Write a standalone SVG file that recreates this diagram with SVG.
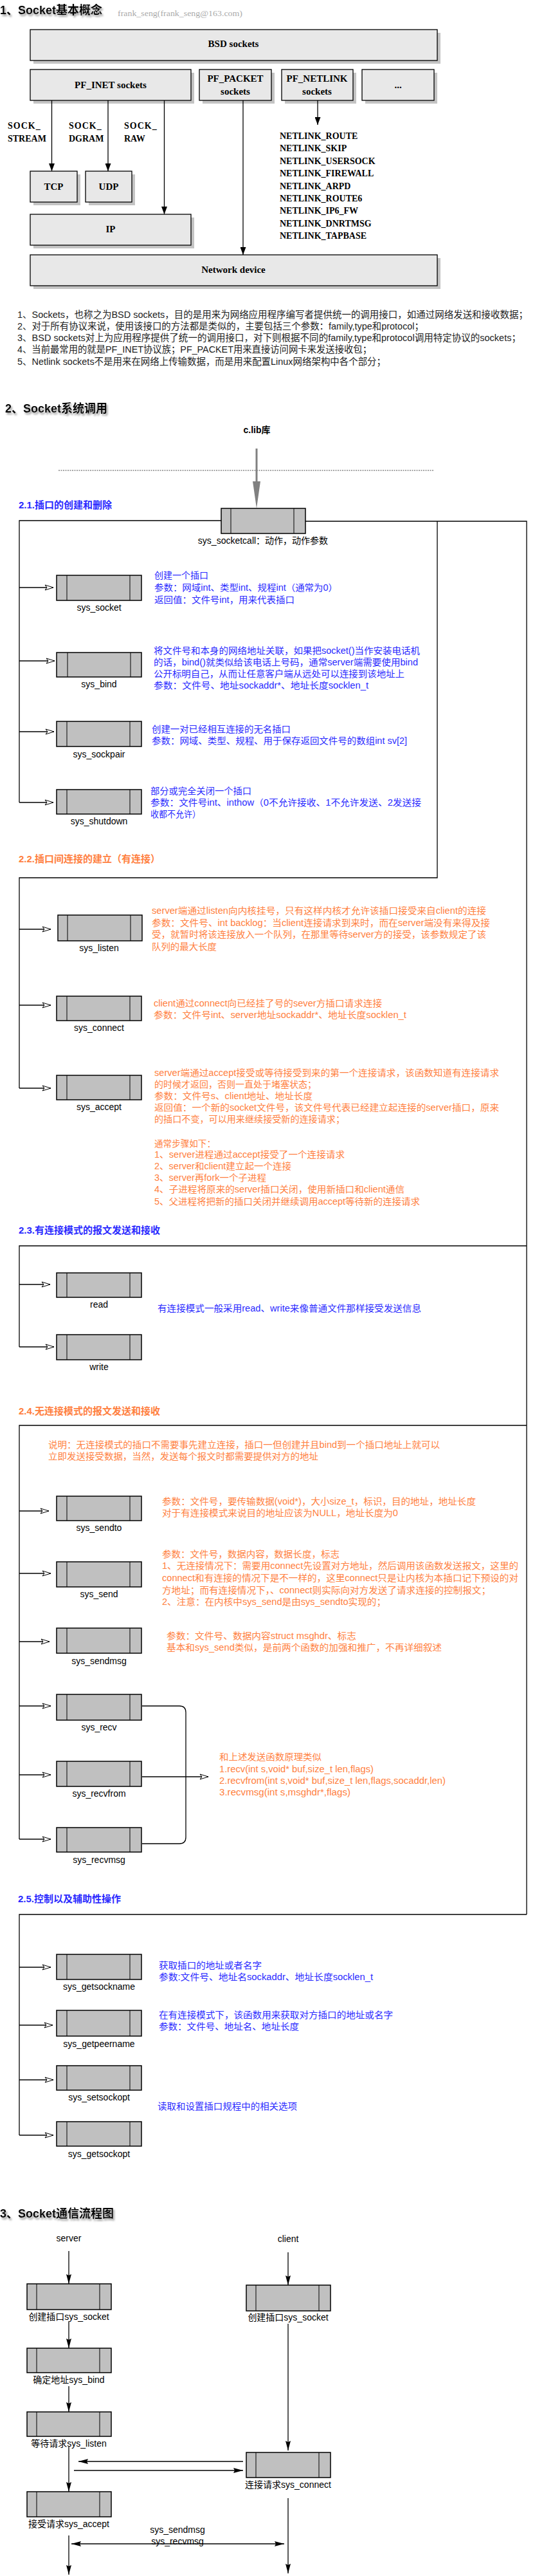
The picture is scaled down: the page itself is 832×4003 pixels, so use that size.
<svg xmlns="http://www.w3.org/2000/svg" width="832" height="4003" viewBox="0 0 832 4003">
<style>
.t{font-family:"Liberation Sans","Noto Sans CJK SC",sans-serif;font-size:14px;fill:#000}
.lbl{font-family:"Liberation Sans","Noto Sans CJK SC",sans-serif;font-size:14px;fill:#000;text-anchor:middle}
.ser{font-family:"Liberation Serif","Noto Sans CJK SC",serif;font-weight:bold;font-size:15px;fill:#000}
.serc{font-family:"Liberation Serif",serif;font-weight:bold;font-size:15px;fill:#000;text-anchor:middle}
.nl{font-family:"Liberation Serif",serif;font-weight:bold;font-size:14px;fill:#000}
.h1{font-family:"Liberation Sans","Noto Sans CJK SC",sans-serif;font-weight:bold;font-size:18px;fill:#000}
.h2{font-family:"Liberation Sans","Noto Sans CJK SC",sans-serif;font-weight:bold;font-size:15px}
.blue{fill:#2a2aff}
.or{fill:#ff8040}
.gb{fill:#e8e8e8;stroke:#000;stroke-width:1.3}
.sh{fill:#c4c4c4}
.box{fill:#c0c0c0;stroke:#000;stroke-width:1.5}
.in{stroke:#000;stroke-width:1}
.ln{fill:none;stroke:#000;stroke-width:1.3}
.list{font-family:"Liberation Sans","Noto Sans CJK SC",sans-serif;font-size:14.5px;fill:#222}
</style>
<defs>
<filter id="tsh" x="-10%" y="-30%" width="130%" height="180%">
<feGaussianBlur in="SourceAlpha" stdDeviation="1.5"/>
<feOffset dx="2" dy="3" result="b"/>
<feFlood flood-color="#999"/>
<feComposite in2="b" operator="in"/>
<feMerge><feMergeNode/><feMergeNode in="SourceGraphic"/></feMerge>
</filter>
<marker id="oa" markerUnits="userSpaceOnUse" markerWidth="15" markerHeight="10" refX="14" refY="5" orient="auto">
<path d="M1,1 L14,5 L1,9 L4,5 Z" fill="#fff" stroke="#000" stroke-width="1"/>
</marker>
<marker id="fa" markerUnits="userSpaceOnUse" markerWidth="13" markerHeight="9" refX="12" refY="4.5" orient="auto">
<path d="M0,0 L12,4.5 L0,9 Z" fill="#000"/>
</marker>
<marker id="fb" markerUnits="userSpaceOnUse" markerWidth="16" markerHeight="9" refX="15" refY="4.5" orient="auto-start-reverse">
<path d="M0,0.5 L15,4.5 L0,8.5 L2,4.5 Z" fill="#000"/>
</marker>
</defs>
<rect width="832" height="4003" fill="#fff"/>

<!-- Section 1 -->
<text class="h1" x="0" y="22" filter="url(#tsh)">1、Socket基本概念</text>
<text x="183" y="25" font-family="Liberation Serif,serif" font-size="13" fill="#aaa" textLength="194" lengthAdjust="spacingAndGlyphs">frank_seng(frank_seng@163.com)</text>

<g id="bsd"><rect class="sh" x="52" y="51" width="633" height="48"/><rect class="gb" x="47" y="46" width="633" height="48"/><text class="serc" x="363" y="73">BSD sockets</text></g>
<g id="pfinet"><rect class="sh" x="52" y="113" width="250" height="48"/><rect class="gb" x="47" y="108" width="250" height="48"/><text class="serc" x="172" y="137">PF_INET sockets</text></g>
<g id="pfpacket"><rect class="sh" x="315" y="113" width="112" height="48"/><rect class="gb" x="310" y="108" width="112" height="48"/><text class="serc" x="366" y="127">PF_PACKET</text><text class="serc" x="366" y="147">sockets</text></g>
<g id="pfnetlink"><rect class="sh" x="443" y="113" width="111" height="48"/><rect class="gb" x="438" y="108" width="111" height="48"/><text class="serc" x="493" y="127">PF_NETLINK</text><text class="serc" x="493" y="147">sockets</text></g>
<g id="etc"><rect class="sh" x="568" y="113" width="112" height="48"/><rect class="gb" x="563" y="108" width="112" height="48"/><text class="serc" x="619" y="137">...</text></g>
<g id="tcp"><rect class="sh" x="52" y="271" width="73" height="48"/><rect class="gb" x="47" y="266" width="73" height="48"/><text class="serc" x="83.5" y="295">TCP</text></g>
<g id="udp"><rect class="sh" x="138" y="271" width="72" height="48"/><rect class="gb" x="133" y="266" width="72" height="48"/><text class="serc" x="169" y="295">UDP</text></g>
<g id="ip"><rect class="sh" x="52" y="338" width="250" height="48"/><rect class="gb" x="47" y="333" width="250" height="48"/><text class="serc" x="172" y="361">IP</text></g>
<g id="netdev"><rect class="sh" x="52" y="401" width="633" height="48"/><rect class="gb" x="47" y="396" width="633" height="48"/><text class="serc" x="363" y="424">Network device</text></g>

<g id="sock-labels">
<text class="nl" x="12" y="200" letter-spacing="1">SOCK_</text><text class="nl" x="12" y="220">STREAM</text>
<text class="nl" x="107" y="200" letter-spacing="1">SOCK_</text><text class="nl" x="107" y="220">DGRAM</text>
<text class="nl" x="193" y="200" letter-spacing="1">SOCK_</text><text class="nl" x="193" y="220">RAW</text>
</g>
<g id="netlink-list">
<text class="nl" x="435" y="216">NETLINK_ROUTE</text>
<text class="nl" x="435" y="235">NETLINK_SKIP</text>
<text class="nl" x="435" y="255">NETLINK_USERSOCK</text>
<text class="nl" x="435" y="274">NETLINK_FIREWALL</text>
<text class="nl" x="435" y="294">NETLINK_ARPD</text>
<text class="nl" x="435" y="313">NETLINK_ROUTE6</text>
<text class="nl" x="435" y="332">NETLINK_IP6_FW</text>
<text class="nl" x="435" y="352">NETLINK_DNRTMSG</text>
<text class="nl" x="435" y="371">NETLINK_TAPBASE</text>
</g>

<g id="notes1">
<text class="list" x="27" y="494" textLength="794" lengthAdjust="spacingAndGlyphs">1、Sockets，也称之为BSD sockets，目的是用来为网络应用程序编写者提供统一的调用接口，如通过网络发送和接收数据；</text>
<text class="list" x="27" y="512" textLength="632" lengthAdjust="spacingAndGlyphs">2、对于所有协议来说，使用该接口的方法都是类似的，主要包括三个参数：family,type和protocol；</text>
<text class="list" x="27" y="530" textLength="783" lengthAdjust="spacingAndGlyphs">3、BSD sockets对上为应用程序提供了统一的调用接口，对下则根据不同的family,type和protocol调用特定协议的sockets；</text>
<text class="list" x="27" y="548" textLength="551" lengthAdjust="spacingAndGlyphs">4、当前最常用的就是PF_INET协议族；PF_PACKET用来直接访问网卡来发送接收包；</text>
<text class="list" x="27" y="567" textLength="573" lengthAdjust="spacingAndGlyphs">5、Netlink sockets不是用来在网络上传输数据，而是用来配置Linux网络架构中各个部分；</text>
</g>

<!-- Section 2 -->
<text class="h1" x="8" y="641" filter="url(#tsh)">2、Socket系统调用</text>
<text x="399.5" y="673" font-family="Liberation Sans,Noto Sans CJK SC,sans-serif" font-size="14" font-weight="bold" text-anchor="middle">c.lib库</text>
<text class="h2 blue" x="29" y="790">2.1.插口的创建和删除</text>
<text class="h2 or" x="29" y="1340">2.2.插口间连接的建立（有连接）</text>
<text class="h2 blue" x="29" y="1917">2.3.有连接模式的报文发送和接收</text>
<text class="h2 or" x="29" y="2198">2.4.无连接模式的报文发送和接收</text>
<text class="h2 blue" x="28" y="2956">2.5.控制以及辅助性操作</text>

<g id="connectors">
<!-- section 1 -->
<line class="ln" x1="80.5" y1="156" x2="80.5" y2="266" marker-end="url(#fa)"/>
<line class="ln" x1="168" y1="156" x2="168" y2="266" marker-end="url(#fa)"/>
<line class="ln" x1="255.5" y1="156" x2="255.5" y2="333" marker-end="url(#fa)"/>
<line class="ln" x1="378" y1="156" x2="378" y2="396" marker-end="url(#fa)"/>
<line class="ln" x1="494" y1="156" x2="494" y2="194" marker-end="url(#fa)"/>
<!-- clib -->
<line x1="91" y1="731" x2="675" y2="731" stroke="#888" stroke-width="1.5" stroke-dasharray="2,1.5"/>
<line x1="399" y1="697" x2="399" y2="752" stroke="#808080" stroke-width="3"/>
<polygon points="393,748 405,748 399,790" fill="#808080"/>
<!-- buses -->
<path class="ln" d="M344,809 H30 V1247"/>
<path class="ln" d="M475,810 H819 V2975"/>
<path class="ln" d="M680,810 V1364 H30 V1691"/>
<path class="ln" d="M819,1936 H30 V2093"/>
<path class="ln" d="M819,2215 H30 V2858"/>
<path class="ln" d="M819,2975 H30 V3318"/>
<!-- branch arrows -->
<line class="ln" x1="30" y1="913" x2="83" y2="913" marker-end="url(#oa)"/>
<line class="ln" x1="30" y1="1027" x2="85" y2="1027" marker-end="url(#oa)"/>
<line class="ln" x1="30" y1="1137" x2="84" y2="1137" marker-end="url(#oa)"/>
<line class="ln" x1="30" y1="1247" x2="83" y2="1247" marker-end="url(#oa)"/>
<line class="ln" x1="30" y1="1444" x2="79" y2="1444" marker-end="url(#oa)"/>
<line class="ln" x1="30" y1="1562" x2="79" y2="1562" marker-end="url(#oa)"/>
<line class="ln" x1="30" y1="1691" x2="79" y2="1691" marker-end="url(#oa)"/>
<line class="ln" x1="30" y1="1996" x2="78" y2="1996" marker-end="url(#oa)"/>
<line class="ln" x1="30" y1="2093" x2="84" y2="2093" marker-end="url(#oa)"/>
<line class="ln" x1="30" y1="2348" x2="76" y2="2348" marker-end="url(#oa)"/>
<line class="ln" x1="30" y1="2445" x2="79" y2="2445" marker-end="url(#oa)"/>
<line class="ln" x1="30" y1="2551" x2="77" y2="2551" marker-end="url(#oa)"/>
<line class="ln" x1="30" y1="2651" x2="79" y2="2651" marker-end="url(#oa)"/>
<line class="ln" x1="30" y1="2758" x2="79" y2="2758" marker-end="url(#oa)"/>
<line class="ln" x1="30" y1="2858" x2="79" y2="2858" marker-end="url(#oa)"/>
<line class="ln" x1="30" y1="3057" x2="79" y2="3057" marker-end="url(#oa)"/>
<line class="ln" x1="30" y1="3147" x2="82" y2="3147" marker-end="url(#oa)"/>
<line class="ln" x1="30" y1="3232" x2="83" y2="3232" marker-end="url(#oa)"/>
<line class="ln" x1="30" y1="3318" x2="83" y2="3318" marker-end="url(#oa)"/>
<!-- recv bracket -->
<path class="ln" d="M221,2651 H279 Q289,2651 289,2661 V2855 Q289,2865 279,2865 H221"/>
<line class="ln" x1="221" y1="2761" x2="324" y2="2761" marker-end="url(#oa)"/>
<!-- section 3 -->
<line class="ln" x1="107" y1="3498" x2="107" y2="3549" marker-end="url(#fb)"/>
<line class="ln" x1="448" y1="3500" x2="448" y2="3551" marker-end="url(#fb)"/>
<line class="ln" x1="107" y1="3607" x2="107" y2="3649" marker-end="url(#fb)"/>
<line class="ln" x1="107" y1="3708" x2="107" y2="3748" marker-end="url(#fb)"/>
<line class="ln" x1="107" y1="3802" x2="107" y2="3872" marker-end="url(#fb)"/>
<line class="ln" x1="448" y1="3611" x2="448" y2="3808" marker-end="url(#fb)"/>
<line class="ln" x1="378" y1="3825" x2="122" y2="3825" marker-end="url(#fb)"/>
<line class="ln" x1="115" y1="3839" x2="378" y2="3839" marker-end="url(#fb)"/>
<line class="ln" x1="111" y1="3953" x2="442" y2="3953" marker-start="url(#fb)" marker-end="url(#fb)"/>
<line class="ln" x1="107" y1="3940" x2="107" y2="4001" marker-end="url(#fb)"/>
<line class="ln" x1="448" y1="3882" x2="448" y2="3999" marker-end="url(#fb)"/>
</g>

<!-- nodes section 2 -->
<g id="sys_socketcall"><rect class="box" x="344" y="790" width="131" height="39"/><line class="in" x1="359" y1="790" x2="359" y2="829"/><line class="in" x1="457" y1="790" x2="457" y2="829"/><text class="lbl" x="409" y="845">sys_socketcall：动作，动作参数</text></g>

<g id="sys_socket"><rect class="box" x="88" y="894" width="132" height="39"/><line class="in" x1="104" y1="894" x2="104" y2="933"/><line class="in" x1="202" y1="894" x2="202" y2="933"/><text class="lbl" x="154" y="949">sys_socket</text></g>
<g id="sys_bind"><rect class="box" x="88" y="1014" width="132" height="38"/><line class="in" x1="105" y1="1014" x2="105" y2="1052"/><line class="in" x1="203" y1="1014" x2="203" y2="1052"/><text class="lbl" x="154" y="1068">sys_bind</text></g>
<g id="sys_sockpair"><rect class="box" x="88" y="1121" width="132" height="39"/><line class="in" x1="104" y1="1121" x2="104" y2="1160"/><line class="in" x1="202" y1="1121" x2="202" y2="1160"/><text class="lbl" x="154" y="1177">sys_sockpair</text></g>
<g id="sys_shutdown"><rect class="box" x="88" y="1227" width="132" height="38"/><line class="in" x1="104" y1="1227" x2="104" y2="1265"/><line class="in" x1="202" y1="1227" x2="202" y2="1265"/><text class="lbl" x="154" y="1281">sys_shutdown</text></g>

<g id="sys_listen"><rect class="box" x="90" y="1422" width="131" height="40"/><line class="in" x1="105" y1="1422" x2="105" y2="1462"/><line class="in" x1="203" y1="1422" x2="203" y2="1462"/><text class="lbl" x="154" y="1478">sys_listen</text></g>
<g id="sys_connect"><rect class="box" x="88" y="1548" width="132" height="38"/><line class="in" x1="104" y1="1548" x2="104" y2="1586"/><line class="in" x1="202" y1="1548" x2="202" y2="1586"/><text class="lbl" x="154" y="1602">sys_connect</text></g>
<g id="sys_accept"><rect class="box" x="88" y="1671" width="132" height="38"/><line class="in" x1="104" y1="1671" x2="104" y2="1709"/><line class="in" x1="202" y1="1671" x2="202" y2="1709"/><text class="lbl" x="154" y="1725">sys_accept</text></g>

<g id="read"><rect class="box" x="88" y="1978" width="132" height="38"/><line class="in" x1="104" y1="1978" x2="104" y2="2016"/><line class="in" x1="202" y1="1978" x2="202" y2="2016"/><text class="lbl" x="154" y="2032">read</text></g>
<g id="write"><rect class="box" x="88" y="2074" width="132" height="39"/><line class="in" x1="104" y1="2074" x2="104" y2="2113"/><line class="in" x1="202" y1="2074" x2="202" y2="2113"/><text class="lbl" x="154" y="2129">write</text></g>

<g id="sys_sendto"><rect class="box" x="88" y="2325" width="132" height="38"/><line class="in" x1="104" y1="2325" x2="104" y2="2363"/><line class="in" x1="202" y1="2325" x2="202" y2="2363"/><text class="lbl" x="154" y="2379">sys_sendto</text></g>
<g id="sys_send"><rect class="box" x="88" y="2427" width="132" height="39"/><line class="in" x1="104" y1="2427" x2="104" y2="2466"/><line class="in" x1="202" y1="2427" x2="202" y2="2466"/><text class="lbl" x="154" y="2482">sys_send</text></g>
<g id="sys_sendmsg"><rect class="box" x="88" y="2530" width="132" height="39"/><line class="in" x1="104" y1="2530" x2="104" y2="2569"/><line class="in" x1="202" y1="2530" x2="202" y2="2569"/><text class="lbl" x="154" y="2586">sys_sendmsg</text></g>
<g id="sys_recv"><rect class="box" x="88" y="2633" width="132" height="40"/><line class="in" x1="104" y1="2633" x2="104" y2="2673"/><line class="in" x1="202" y1="2633" x2="202" y2="2673"/><text class="lbl" x="154" y="2689">sys_recv</text></g>
<g id="sys_recvfrom"><rect class="box" x="88" y="2737" width="132" height="39"/><line class="in" x1="104" y1="2737" x2="104" y2="2776"/><line class="in" x1="202" y1="2737" x2="202" y2="2776"/><text class="lbl" x="154" y="2792">sys_recvfrom</text></g>
<g id="sys_recvmsg"><rect class="box" x="88" y="2840" width="132" height="38"/><line class="in" x1="104" y1="2840" x2="104" y2="2878"/><line class="in" x1="202" y1="2840" x2="202" y2="2878"/><text class="lbl" x="154" y="2895">sys_recvmsg</text></g>

<g id="sys_getsockname"><rect class="box" x="88" y="3037" width="132" height="39"/><line class="in" x1="104" y1="3037" x2="104" y2="3076"/><line class="in" x1="202" y1="3037" x2="202" y2="3076"/><text class="lbl" x="154" y="3092">sys_getsockname</text></g>
<g id="sys_getpeername"><rect class="box" x="88" y="3124" width="132" height="40"/><line class="in" x1="104" y1="3124" x2="104" y2="3164"/><line class="in" x1="202" y1="3124" x2="202" y2="3164"/><text class="lbl" x="154" y="3181">sys_getpeername</text></g>
<g id="sys_setsockopt"><rect class="box" x="88" y="3210" width="132" height="38"/><line class="in" x1="104" y1="3210" x2="104" y2="3248"/><line class="in" x1="202" y1="3210" x2="202" y2="3248"/><text class="lbl" x="154" y="3264">sys_setsockopt</text></g>
<g id="sys_getsockopt"><rect class="box" x="88" y="3297" width="132" height="38"/><line class="in" x1="104" y1="3297" x2="104" y2="3335"/><line class="in" x1="202" y1="3297" x2="202" y2="3335"/><text class="lbl" x="154" y="3352">sys_getsockopt</text></g>

<!-- descriptions -->
<g id="desc-socket" class="blue">
<text class="t blue" x="240" y="899">创建一个插口</text>
<text class="t blue" x="240" y="918" textLength="285" lengthAdjust="spacingAndGlyphs">参数：网域int、类型int、规程int（通常为0）</text>
<text class="t blue" x="240" y="937" textLength="218" lengthAdjust="spacingAndGlyphs">返回值：文件号int，用来代表插口</text>
</g>
<g id="desc-bind">
<text class="t blue" x="239" y="1016" textLength="414" lengthAdjust="spacingAndGlyphs">将文件号和本身的网络地址关联，如果把socket()当作安装电话机</text>
<text class="t blue" x="239" y="1034" textLength="411" lengthAdjust="spacingAndGlyphs">的话，bind()就类似给该电话上号码，通常server端需要使用bind</text>
<text class="t blue" x="239" y="1052" textLength="390" lengthAdjust="spacingAndGlyphs">公开标明自己，从而让任意客户端从远处可以连接到该地址上</text>
<text class="t blue" x="239" y="1070" textLength="334" lengthAdjust="spacingAndGlyphs">参数：文件号、地址sockaddr*、地址长度socklen_t</text>
</g>
<g id="desc-sockpair">
<text class="t blue" x="236" y="1138" textLength="216" lengthAdjust="spacingAndGlyphs">创建一对已经相互连接的无名插口</text>
<text class="t blue" x="236" y="1156" textLength="397" lengthAdjust="spacingAndGlyphs">参数：网域、类型、规程、用于保存返回文件号的数组int sv[2]</text>
</g>
<g id="desc-shutdown">
<text class="t blue" x="234" y="1234" textLength="157" lengthAdjust="spacingAndGlyphs">部分或完全关闭一个插口</text>
<text class="t blue" x="234" y="1252" textLength="421" lengthAdjust="spacingAndGlyphs">参数：文件号int、inthow（0不允许接收、1不允许发送、2发送接</text>
<text class="t blue" x="234" y="1270" textLength="78" lengthAdjust="spacingAndGlyphs">收都不允许）</text>
</g>
<g id="desc-listen">
<text class="t or" x="236" y="1420" textLength="520" lengthAdjust="spacingAndGlyphs">server端通过listen向内核挂号，只有这样内核才允许该插口接受来自client的连接</text>
<text class="t or" x="236" y="1439" textLength="526" lengthAdjust="spacingAndGlyphs">参数：文件号、int backlog：当client连接请求到来时，而在server端没有来得及接</text>
<text class="t or" x="236" y="1457" textLength="520" lengthAdjust="spacingAndGlyphs">受，就暂时将该连接放入一个队列，在那里等待server方的接受，该参数规定了该</text>
<text class="t or" x="236" y="1476" textLength="101" lengthAdjust="spacingAndGlyphs">队列的最大长度</text>
</g>
<g id="desc-connect">
<text class="t or" x="239" y="1564" textLength="355" lengthAdjust="spacingAndGlyphs">client通过connect向已经挂了号的sever方插口请求连接</text>
<text class="t or" x="239" y="1582" textLength="393" lengthAdjust="spacingAndGlyphs">参数：文件号int、server地址sockaddr*、地址长度socklen_t</text>
</g>
<g id="desc-accept">
<text class="t or" x="240" y="1672" textLength="536" lengthAdjust="spacingAndGlyphs">server端通过accept接受或等待接受到来的第一个连接请求，该函数知道有连接请求</text>
<text class="t or" x="240" y="1690" textLength="252" lengthAdjust="spacingAndGlyphs">的时候才返回，否则一直处于堵塞状态；</text>
<text class="t or" x="240" y="1708" textLength="246" lengthAdjust="spacingAndGlyphs">参数：文件号s、client地址、地址长度</text>
<text class="t or" x="240" y="1726" textLength="536" lengthAdjust="spacingAndGlyphs">返回值：一个新的socket文件号，该文件号代表已经建立起连接的server插口，原来</text>
<text class="t or" x="240" y="1744" textLength="296" lengthAdjust="spacingAndGlyphs">的插口不变，可以用来继续接受新的连接请求；</text>
<text class="t or" x="240" y="1782" textLength="95" lengthAdjust="spacingAndGlyphs">通常步骤如下：</text>
<text class="t or" x="240" y="1799" textLength="296" lengthAdjust="spacingAndGlyphs">1、server进程通过accept接受了一个连接请求</text>
<text class="t or" x="240" y="1817" textLength="213" lengthAdjust="spacingAndGlyphs">2、server和client建立起一个连接</text>
<text class="t or" x="240" y="1835" textLength="174" lengthAdjust="spacingAndGlyphs">3、server再fork一个子进程</text>
<text class="t or" x="240" y="1853" textLength="389" lengthAdjust="spacingAndGlyphs">4、子进程将原来的server插口关闭，使用新插口和client通信</text>
<text class="t or" x="240" y="1872" textLength="413" lengthAdjust="spacingAndGlyphs">5、父进程将把新的插口关闭并继续调用accept等待新的连接请求</text>
</g>
<g id="desc-readwrite">
<text class="t blue" x="245" y="2038" textLength="410" lengthAdjust="spacingAndGlyphs">有连接模式一般采用read、write来像普通文件那样接受发送信息</text>
</g>
<g id="desc-24">
<text class="t or" x="75" y="2250" textLength="609" lengthAdjust="spacingAndGlyphs">说明：无连接模式的插口不需要事先建立连接，插口一但创建并且bind到一个插口地址上就可以</text>
<text class="t or" x="75" y="2268" textLength="420" lengthAdjust="spacingAndGlyphs">立即发送接受数据，当然，发送每个报文时都需要提供对方的地址</text>
</g>
<g id="desc-sendto">
<text class="t or" x="252" y="2338" textLength="488" lengthAdjust="spacingAndGlyphs">参数：文件号，要传输数据(void*)，大小size_t，标识，目的地址，地址长度</text>
<text class="t or" x="252" y="2356" textLength="367" lengthAdjust="spacingAndGlyphs">对于有连接模式来说目的地址应该为NULL，地址长度为0</text>
</g>
<g id="desc-send">
<text class="t or" x="252" y="2420" textLength="276" lengthAdjust="spacingAndGlyphs">参数：文件号，数据内容，数据长度，标志</text>
<text class="t or" x="252" y="2438" textLength="554" lengthAdjust="spacingAndGlyphs">1、无连接情况下：需要用connect先设置对方地址，然后调用该函数发送报文，这里的</text>
<text class="t or" x="252" y="2457" textLength="554" lengthAdjust="spacingAndGlyphs">connect和有连接的情况下是不一样的，这里connect只是让内核为本插口记下预设的对</text>
<text class="t or" x="252" y="2476" textLength="511" lengthAdjust="spacingAndGlyphs">方地址；而有连接情况下，、connect则实际向对方发送了请求连接的控制报文；</text>
<text class="t or" x="252" y="2494" textLength="348" lengthAdjust="spacingAndGlyphs">2、注意：在内核中sys_send是由sys_sendto实现的；</text>
</g>
<g id="desc-sendmsg">
<text class="t or" x="259" y="2547" textLength="295" lengthAdjust="spacingAndGlyphs">参数：文件号、数据内容struct msghdr、标志</text>
<text class="t or" x="259" y="2565" textLength="428" lengthAdjust="spacingAndGlyphs">基本和sys_send类似，是前两个函数的加强和推广，不再详细叙述</text>
</g>
<g id="desc-recv">
<text class="t or" x="341" y="2735" textLength="159" lengthAdjust="spacingAndGlyphs">和上述发送函数原理类似</text>
<text class="t or" x="341" y="2754" textLength="240" lengthAdjust="spacingAndGlyphs">1.recv(int s,void* buf,size_t len,flags)</text>
<text class="t or" x="341" y="2772" textLength="352" lengthAdjust="spacingAndGlyphs">2.recvfrom(int s,void* buf,size_t len,flags,socaddr,len)</text>
<text class="t or" x="341" y="2790" textLength="204" lengthAdjust="spacingAndGlyphs">3.recvmsg(int s,msghdr*,flags)</text>
</g>
<g id="desc-25">
<text class="t blue" x="247" y="3059" textLength="160" lengthAdjust="spacingAndGlyphs">获取插口的地址或者名字</text>
<text class="t blue" x="247" y="3077" textLength="333" lengthAdjust="spacingAndGlyphs">参数:文件号、地址名sockaddr、地址长度socklen_t</text>
<text class="t blue" x="247" y="3136" textLength="364" lengthAdjust="spacingAndGlyphs">在有连接模式下，该函数用来获取对方插口的地址或名字</text>
<text class="t blue" x="247" y="3154" textLength="218" lengthAdjust="spacingAndGlyphs">参数：文件号、地址名、地址长度</text>
<text class="t blue" x="245" y="3278" textLength="217" lengthAdjust="spacingAndGlyphs">读取和设置插口规程中的相关选项</text>
</g>

<!-- Section 3 -->
<text class="h1" x="0" y="3446" filter="url(#tsh)">3、Socket通信流程图</text>
<text class="lbl" x="107" y="3483">server</text>
<text class="lbl" x="448" y="3484">client</text>
<g id="s_socket"><rect class="box" x="42" y="3549" width="131" height="40"/><line class="in" x1="57" y1="3549" x2="57" y2="3589"/><line class="in" x1="155" y1="3549" x2="155" y2="3589"/><text class="lbl" x="107" y="3605">创建插口sys_socket</text></g>
<g id="s_bind"><rect class="box" x="42" y="3649" width="131" height="38"/><line class="in" x1="57" y1="3649" x2="57" y2="3687"/><line class="in" x1="155" y1="3649" x2="155" y2="3687"/><text class="lbl" x="107" y="3703">确定地址sys_bind</text></g>
<g id="s_listen"><rect class="box" x="42" y="3748" width="131" height="38"/><line class="in" x1="57" y1="3748" x2="57" y2="3786"/><line class="in" x1="155" y1="3748" x2="155" y2="3786"/><text class="lbl" x="107" y="3802">等待请求sys_listen</text></g>
<g id="s_accept"><rect class="box" x="42" y="3872" width="131" height="39"/><line class="in" x1="57" y1="3872" x2="57" y2="3911"/><line class="in" x1="155" y1="3872" x2="155" y2="3911"/><text class="lbl" x="107" y="3927">接受请求sys_accept</text></g>
<g id="c_socket"><rect class="box" x="383" y="3551" width="131" height="40"/><line class="in" x1="398" y1="3551" x2="398" y2="3591"/><line class="in" x1="496" y1="3551" x2="496" y2="3591"/><text class="lbl" x="448" y="3606">创建插口sys_socket</text></g>
<g id="c_connect"><rect class="box" x="383" y="3811" width="131" height="39"/><line class="in" x1="398" y1="3811" x2="398" y2="3850"/><line class="in" x1="496" y1="3811" x2="496" y2="3850"/><text class="lbl" x="448" y="3866">连接请求sys_connect</text></g>
<text class="lbl" x="276" y="3936">sys_sendmsg</text>
<text class="lbl" x="276" y="3954">sys_recvmsg</text>
</svg>
